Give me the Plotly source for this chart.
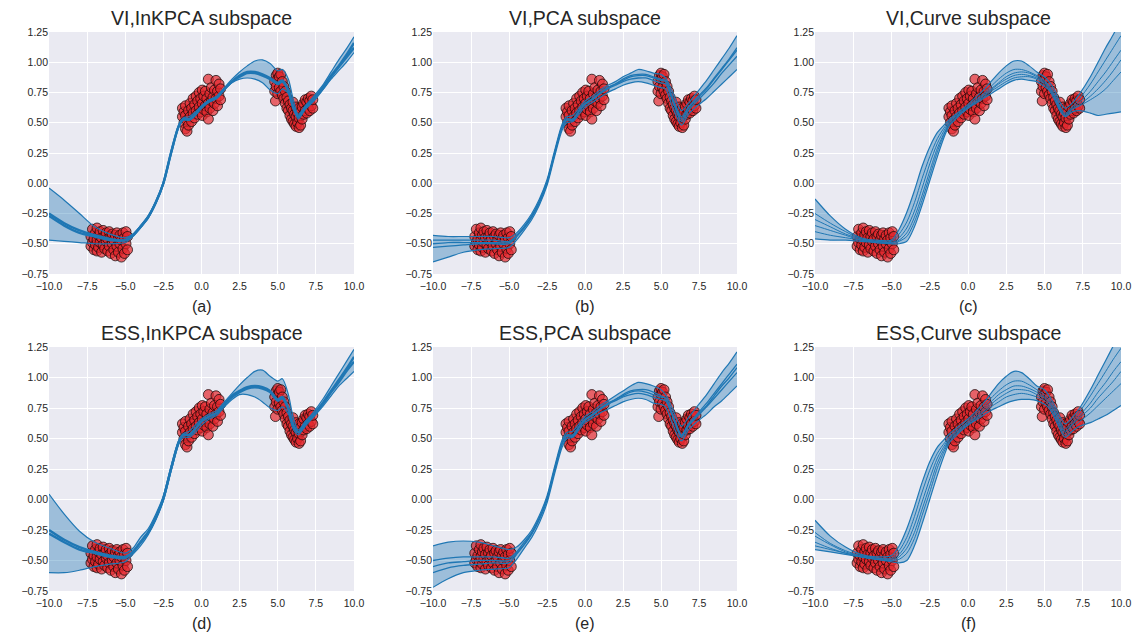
import plotly.graph_objects as go

# ---------------- data ----------------
titles = ["VI,InKPCA subspace", "VI,PCA subspace", "VI,Curve subspace",
          "ESS,InKPCA subspace", "ESS,PCA subspace", "ESS,Curve subspace"]
sublabels = ["(a)", "(b)", "(c)", "(d)", "(e)", "(f)"]

x_ticks = [-10.0, -7.5, -5.0, -2.5, 0.0, 2.5, 5.0, 7.5, 10.0]
y_ticks = [-0.75, -0.50, -0.25, 0.00, 0.25, 0.50, 0.75, 1.00, 1.25]

# observed points (three clusters)
pts_x1 = [-7.25,-7.25,-7.15,-7.15,-7.05,-7.05,-6.95,-6.95,-6.85,-6.85,-6.85,-6.75,-6.75,-6.65,-6.65,-6.55,-6.55,
          -6.45,-6.45,-6.35,-6.35,-6.25,-6.25,-6.15,-6.15,-6.05,-6.05,-5.95,-5.95,-5.85,-5.85,-5.75,-5.75,-5.65,-5.65,
          -5.55,-5.55,-5.45,-5.45,-5.35,-5.35,-5.25,-5.25,-5.15,-5.15,-5.05,-5.05,-4.95,-4.95,-4.85,-4.85]
pts_y1 = [-0.44,-0.52,-0.38,-0.49,-0.46,-0.55,-0.41,-0.51,-0.37,-0.47,-0.56,-0.43,-0.53,-0.40,-0.49,-0.45,-0.57,
          -0.39,-0.51,-0.44,-0.54,-0.41,-0.48,-0.46,-0.56,-0.40,-0.52,-0.44,-0.58,-0.42,-0.50,-0.47,-0.55,-0.43,-0.60,
          -0.41,-0.52,-0.46,-0.57,-0.43,-0.50,-0.47,-0.61,-0.41,-0.54,-0.45,-0.58,-0.40,-0.50,-0.44,-0.55]
pts_x2 = [-1.25,-1.25,-1.15,-1.15,-1.05,-1.05,-1.05,-0.95,-0.95,-0.85,-0.85,-0.75,-0.75,-0.65,-0.65,-0.55,-0.55,
          -0.45,-0.45,-0.35,-0.35,-0.25,-0.25,-0.15,-0.15,-0.05,-0.05,0.05,0.05,0.05,0.15,0.15,0.25,0.25,0.35,0.35,
          0.45,0.45,0.45,0.55,0.55,0.65,0.65,0.75,0.75,0.85,0.85,0.95,0.95,1.05,1.05,1.15,1.15,1.25,1.25]
pts_y2 = [0.55,0.62,0.50,0.59,0.45,0.56,0.64,0.43,0.52,0.48,0.60,0.55,0.66,0.51,0.62,0.58,0.70,
          0.54,0.65,0.60,0.72,0.57,0.68,0.63,0.75,0.59,0.70,0.56,0.66,0.77,0.61,0.72,0.64,0.76,0.59,0.70,
          0.86,0.66,0.53,0.62,0.74,0.68,0.79,0.60,0.71,0.66,0.77,0.70,0.85,0.64,0.76,0.72,0.82,0.69,0.78]
pts_x3 = [4.8,4.8,4.85,4.9,4.9,5.0,5.0,5.0,5.1,5.1,5.2,5.2,5.3,5.3,5.4,5.4,5.5,5.5,5.6,5.6,5.7,5.7,5.8,5.8,
          5.9,5.9,6.0,6.0,6.0,6.1,6.1,6.2,6.2,6.2,6.3,6.3,6.4,6.4,6.4,6.5,6.5,6.6,6.6,6.7,6.7,6.8,6.8,6.9,6.9,
          7.0,7.0,7.1,7.1,7.2,7.2,7.3,7.3]
pts_y3 = [0.76,0.84,0.68,0.80,0.89,0.74,0.86,0.91,0.79,0.88,0.76,0.90,0.73,0.84,0.70,0.80,0.66,0.76,0.62,0.71,
          0.60,0.68,0.56,0.65,0.53,0.62,0.51,0.60,0.67,0.49,0.57,0.47,0.55,0.63,0.50,0.58,0.46,0.54,0.62,0.48,0.59,
          0.53,0.63,0.57,0.66,0.60,0.69,0.58,0.67,0.62,0.70,0.60,0.68,0.64,0.72,0.62,0.69]

# common x grid for the predictive curves
curve_x = [-10,-9,-8,-7,-6,-5,-4.5,-4,-3.5,-3,-2.5,-2,-1.5,-1.2,-0.8,-0.4,0,0.5,1,1.5,2,2.5,3,3.5,4,4.5,
           5,5.3,5.7,6,6.35,6.8,7.3,8,8.5,9,9.5,10]

# (a) VI, InKPCA
a_lower = [-0.47,-0.48,-0.49,-0.50,-0.50,-0.49,-0.44,-0.37,-0.29,-0.17,-0.01,0.24,0.46,0.52,0.52,0.56,0.62,0.67,0.70,0.77,0.83,0.86,0.87,0.86,0.83,0.77,0.74,0.78,0.74,0.63,0.53,0.61,0.67,0.78,0.86,0.93,1.00,1.08]
a_upper = [-0.04,-0.14,-0.25,-0.36,-0.42,-0.45,-0.42,-0.35,-0.27,-0.15,0.01,0.26,0.48,0.54,0.55,0.59,0.64,0.69,0.72,0.79,0.86,0.92,0.97,1.01,1.02,0.99,0.93,0.94,0.86,0.70,0.57,0.64,0.71,0.82,0.92,1.02,1.11,1.21]
a_mid1 = [-0.25,-0.33,-0.39,-0.43,-0.46,-0.47,-0.43,-0.36,-0.28,-0.16,0.0,0.25,0.47,0.53,0.53,0.57,0.63,0.68,0.71,0.78,0.84,0.89,0.92,0.92,0.90,0.87,0.83,0.85,0.77,0.64,0.55,0.63,0.69,0.80,0.89,0.97,1.06,1.16]
a_mid2 = [-0.27,-0.35,-0.41,-0.44,-0.47,-0.47,-0.43,-0.36,-0.28,-0.16,0.0,0.25,0.47,0.53,0.53,0.57,0.63,0.68,0.71,0.78,0.84,0.88,0.91,0.91,0.89,0.86,0.82,0.84,0.76,0.63,0.55,0.62,0.68,0.79,0.88,0.96,1.04,1.12]

# (b) VI, PCA
b_lower = [-0.65,-0.61,-0.57,-0.55,-0.54,-0.53,-0.47,-0.39,-0.30,-0.18,-0.02,0.22,0.44,0.50,0.51,0.57,0.63,0.67,0.71,0.75,0.78,0.81,0.83,0.84,0.83,0.81,0.79,0.78,0.65,0.56,0.48,0.57,0.63,0.70,0.76,0.82,0.88,0.94]
b_upper = [-0.43,-0.44,-0.44,-0.44,-0.44,-0.45,-0.41,-0.34,-0.25,-0.13,0.03,0.27,0.49,0.55,0.56,0.62,0.68,0.72,0.77,0.81,0.84,0.88,0.91,0.94,0.93,0.91,0.90,0.87,0.77,0.68,0.60,0.66,0.74,0.85,0.94,1.03,1.12,1.22]
b_mid1 = [-0.47,-0.47,-0.47,-0.47,-0.47,-0.48,-0.43,-0.36,-0.27,-0.15,0.01,0.25,0.47,0.53,0.53,0.60,0.66,0.70,0.75,0.79,0.82,0.85,0.88,0.89,0.89,0.87,0.85,0.84,0.72,0.62,0.53,0.62,0.69,0.78,0.86,0.94,1.02,1.10]
b_mid2 = [-0.53,-0.52,-0.51,-0.50,-0.50,-0.50,-0.44,-0.37,-0.28,-0.16,0.0,0.24,0.46,0.52,0.52,0.59,0.65,0.69,0.74,0.78,0.81,0.84,0.86,0.87,0.87,0.85,0.83,0.82,0.70,0.60,0.51,0.60,0.67,0.76,0.83,0.91,0.98,1.05]
b_mid3 = [-0.50,-0.49,-0.49,-0.49,-0.49,-0.49,-0.44,-0.36,-0.27,-0.15,0.01,0.25,0.47,0.53,0.53,0.60,0.66,0.70,0.75,0.79,0.82,0.86,0.89,0.90,0.90,0.88,0.86,0.85,0.73,0.63,0.55,0.63,0.70,0.79,0.87,0.95,1.03,1.12]

# (c) VI, Curve
c_lower = [-0.46,-0.47,-0.47,-0.48,-0.49,-0.50,-0.50,-0.48,-0.36,-0.18,0.02,0.22,0.40,0.48,0.53,0.58,0.62,0.66,0.70,0.74,0.78,0.82,0.85,0.86,0.85,0.84,0.80,0.77,0.68,0.60,0.55,0.59,0.60,0.58,0.56,0.57,0.58,0.59]
c_upper = [-0.13,-0.27,-0.38,-0.45,-0.47,-0.47,-0.38,-0.24,-0.06,0.14,0.30,0.42,0.49,0.53,0.57,0.61,0.65,0.71,0.77,0.84,0.91,0.97,1.01,1.01,0.97,0.92,0.88,0.84,0.76,0.67,0.62,0.66,0.74,0.88,1.00,1.12,1.23,1.35]
c_mid1 = [-0.25,-0.33,-0.40,-0.46,-0.48,-0.48,-0.42,-0.32,-0.16,0.04,0.22,0.37,0.47,0.52,0.56,0.60,0.64,0.69,0.74,0.80,0.86,0.91,0.94,0.94,0.92,0.89,0.85,0.81,0.73,0.64,0.58,0.63,0.70,0.82,0.92,1.02,1.12,1.22]
c_mid2 = [-0.30,-0.36,-0.42,-0.46,-0.48,-0.49,-0.45,-0.37,-0.23,-0.04,0.16,0.33,0.45,0.51,0.55,0.59,0.63,0.68,0.73,0.78,0.83,0.88,0.91,0.92,0.91,0.88,0.84,0.80,0.71,0.63,0.57,0.62,0.67,0.76,0.84,0.92,1.01,1.10]
c_mid3 = [-0.35,-0.39,-0.43,-0.47,-0.48,-0.49,-0.47,-0.41,-0.28,-0.10,0.10,0.29,0.43,0.50,0.55,0.59,0.63,0.67,0.72,0.77,0.82,0.86,0.89,0.90,0.89,0.87,0.83,0.79,0.71,0.62,0.56,0.61,0.65,0.72,0.78,0.85,0.93,1.02]
c_mid4 = [-0.40,-0.43,-0.45,-0.47,-0.49,-0.50,-0.48,-0.44,-0.32,-0.14,0.06,0.26,0.42,0.49,0.54,0.58,0.62,0.67,0.71,0.76,0.80,0.84,0.87,0.88,0.88,0.86,0.82,0.78,0.70,0.61,0.56,0.61,0.64,0.69,0.73,0.78,0.85,0.92]

# (d) ESS, InKPCA
d_lower = [-0.60,-0.60,-0.58,-0.55,-0.53,-0.51,-0.45,-0.38,-0.29,-0.17,-0.01,0.23,0.45,0.51,0.51,0.55,0.61,0.66,0.69,0.76,0.82,0.86,0.86,0.84,0.80,0.75,0.73,0.76,0.70,0.58,0.53,0.60,0.67,0.77,0.85,0.93,0.99,1.05]
d_upper = [0.045,-0.12,-0.26,-0.35,-0.40,-0.44,-0.40,-0.31,-0.24,-0.12,0.03,0.27,0.48,0.54,0.56,0.61,0.66,0.70,0.73,0.80,0.87,0.94,1.00,1.05,1.06,1.01,0.97,0.99,0.86,0.68,0.57,0.64,0.71,0.83,0.93,1.03,1.13,1.23]
d_mid1 = [-0.25,-0.33,-0.39,-0.43,-0.46,-0.47,-0.43,-0.35,-0.27,-0.15,0.01,0.25,0.47,0.53,0.53,0.58,0.64,0.68,0.71,0.78,0.85,0.89,0.92,0.93,0.92,0.89,0.82,0.84,0.75,0.62,0.55,0.63,0.69,0.80,0.89,0.98,1.07,1.17]
d_mid2 = [-0.28,-0.35,-0.41,-0.44,-0.47,-0.48,-0.43,-0.35,-0.27,-0.15,0.01,0.25,0.47,0.53,0.53,0.58,0.64,0.68,0.71,0.78,0.84,0.88,0.91,0.92,0.91,0.88,0.81,0.83,0.74,0.61,0.55,0.62,0.68,0.79,0.88,0.96,1.05,1.13]

# (e) ESS, PCA
e_lower = [-0.72,-0.65,-0.60,-0.58,-0.57,-0.56,-0.49,-0.40,-0.31,-0.19,-0.03,0.21,0.43,0.50,0.51,0.57,0.63,0.67,0.71,0.74,0.77,0.80,0.82,0.83,0.82,0.79,0.78,0.76,0.64,0.55,0.48,0.57,0.63,0.70,0.76,0.81,0.87,0.93]
e_upper = [-0.38,-0.35,-0.34,-0.35,-0.38,-0.41,-0.39,-0.33,-0.25,-0.13,0.03,0.27,0.49,0.55,0.56,0.62,0.68,0.72,0.77,0.81,0.85,0.89,0.93,0.96,0.95,0.93,0.90,0.86,0.76,0.67,0.60,0.67,0.75,0.86,0.95,1.04,1.12,1.21]
e_mid1 = [-0.50,-0.48,-0.47,-0.47,-0.47,-0.48,-0.43,-0.35,-0.27,-0.15,0.01,0.25,0.47,0.53,0.53,0.60,0.66,0.70,0.75,0.79,0.82,0.86,0.89,0.90,0.90,0.88,0.85,0.83,0.72,0.62,0.53,0.62,0.69,0.79,0.87,0.95,1.03,1.11]
e_mid2 = [-0.55,-0.52,-0.51,-0.50,-0.50,-0.50,-0.44,-0.37,-0.28,-0.16,0.0,0.24,0.46,0.52,0.52,0.59,0.65,0.69,0.74,0.78,0.81,0.84,0.86,0.87,0.86,0.84,0.82,0.81,0.70,0.60,0.51,0.60,0.67,0.76,0.83,0.90,0.97,1.04]
e_mid3 = [-0.60,-0.56,-0.54,-0.53,-0.52,-0.52,-0.45,-0.37,-0.28,-0.16,0.0,0.24,0.46,0.52,0.52,0.59,0.65,0.69,0.74,0.78,0.82,0.85,0.88,0.89,0.88,0.86,0.84,0.83,0.71,0.61,0.52,0.61,0.68,0.77,0.85,0.93,1.00,1.08]

# (f) ESS, Curve
f_lower = [-0.41,-0.43,-0.45,-0.47,-0.49,-0.51,-0.52,-0.50,-0.38,-0.20,0.0,0.20,0.38,0.47,0.52,0.57,0.61,0.65,0.69,0.73,0.76,0.79,0.81,0.82,0.82,0.81,0.78,0.75,0.66,0.58,0.51,0.56,0.60,0.63,0.66,0.69,0.73,0.77]
f_upper = [-0.17,-0.30,-0.39,-0.45,-0.47,-0.46,-0.38,-0.24,-0.06,0.14,0.31,0.43,0.50,0.54,0.58,0.62,0.66,0.72,0.79,0.87,0.95,1.01,1.05,1.04,0.99,0.93,0.90,0.85,0.76,0.68,0.62,0.67,0.75,0.90,1.02,1.14,1.26,1.38]
f_mid1 = [-0.27,-0.36,-0.42,-0.46,-0.48,-0.48,-0.42,-0.31,-0.14,0.06,0.24,0.38,0.47,0.52,0.56,0.60,0.64,0.70,0.76,0.83,0.89,0.94,0.97,0.97,0.94,0.90,0.86,0.82,0.73,0.65,0.58,0.64,0.72,0.85,0.95,1.05,1.15,1.24]
f_mid2 = [-0.30,-0.37,-0.43,-0.46,-0.48,-0.49,-0.45,-0.36,-0.21,-0.02,0.17,0.34,0.45,0.51,0.55,0.59,0.63,0.68,0.74,0.80,0.86,0.90,0.93,0.93,0.91,0.88,0.84,0.80,0.71,0.63,0.56,0.62,0.69,0.79,0.88,0.96,1.05,1.13]
f_mid3 = [-0.35,-0.40,-0.44,-0.47,-0.49,-0.50,-0.47,-0.40,-0.27,-0.08,0.11,0.30,0.43,0.50,0.54,0.58,0.62,0.67,0.72,0.78,0.83,0.87,0.90,0.90,0.89,0.86,0.83,0.79,0.70,0.62,0.55,0.61,0.67,0.75,0.83,0.90,0.97,1.05]
f_mid4 = [-0.38,-0.41,-0.44,-0.47,-0.49,-0.50,-0.49,-0.44,-0.32,-0.13,0.06,0.26,0.41,0.49,0.53,0.57,0.61,0.66,0.71,0.76,0.80,0.84,0.86,0.87,0.86,0.84,0.81,0.77,0.68,0.60,0.53,0.59,0.64,0.71,0.77,0.83,0.89,0.95]

panels = [
    (a_lower, a_upper, [a_mid1, a_mid2], 2.4),
    (b_lower, b_upper, [b_mid1, b_mid2, b_mid3], 1.3),
    (c_lower, c_upper, [c_mid1, c_mid2, c_mid3, c_mid4], 1.0),
    (d_lower, d_upper, [d_mid1, d_mid2], 2.4),
    (e_lower, e_upper, [e_mid1, e_mid2, e_mid3], 1.3),
    (f_lower, f_upper, [f_mid1, f_mid2, f_mid3, f_mid4], 1.0),
]

# ---------------- layout geometry (pixels of a 1138x637 canvas) ----------------
W, H = 1138, 637
col_px = [(49, 354), (433, 737), (815, 1121)]
row_px = [(32, 274), (347, 591)]

BLUE = "#1f77b4"
BAND = "rgba(31,119,180,0.38)"
FONT = "Arial, 'Liberation Sans', sans-serif"

pts_x = pts_x1 + pts_x2 + pts_x3
pts_y = pts_y1 + pts_y2 + pts_y3

fig = go.Figure()
layout = dict(
    width=W, height=H, margin=dict(l=0, r=0, t=0, b=0, pad=0, autoexpand=False),
    paper_bgcolor="white", plot_bgcolor="#EAEAF2", showlegend=False,
    font=dict(family=FONT, color="#262626"),
)
annotations = []

for i, (lower, upper, mids, midw) in enumerate(panels):
    r, c = divmod(i, 3)
    xa = "x" if i == 0 else f"x{i+1}"
    ya = "y" if i == 0 else f"y{i+1}"
    xkey = "xaxis" if i == 0 else f"xaxis{i+1}"
    ykey = "yaxis" if i == 0 else f"yaxis{i+1}"
    x0, x1 = col_px[c]
    y0, y1 = row_px[r]
    layout[xkey] = dict(
        domain=[x0 / W, x1 / W], anchor=ya, range=[-10, 10], automargin=False,
        tickvals=x_ticks, tickformat=".1f", showgrid=True, gridcolor="white",
        gridwidth=1.3, zeroline=False, showline=False, ticks="",
        ticklabelstandoff=4,
        tickfont=dict(size=10.5, color="#262626"),
    )
    layout[ykey] = dict(
        domain=[1 - y1 / H, 1 - y0 / H], anchor=xa, range=[-0.75, 1.25], automargin=False,
        tickvals=y_ticks, tickformat=".2f", showgrid=True, gridcolor="white",
        gridwidth=1.3, zeroline=False, showline=False, ticks="",
        tickfont=dict(size=10.5, color="#262626"),
    )
    # band
    fig.add_trace(go.Scatter(x=curve_x, y=lower, mode="lines", xaxis=xa, yaxis=ya,
                             line=dict(width=0, shape="spline", smoothing=0.8, color=BLUE),
                             hoverinfo="skip"))
    fig.add_trace(go.Scatter(x=curve_x, y=upper, mode="lines", xaxis=xa, yaxis=ya,
                             fill="tonexty", fillcolor=BAND,
                             line=dict(width=0, shape="spline", smoothing=0.8, color=BLUE),
                             hoverinfo="skip"))
    # observations
    fig.add_trace(go.Scatter(x=pts_x, y=pts_y, mode="markers", xaxis=xa, yaxis=ya,
                             marker=dict(size=10, color="rgba(228,40,45,0.7)",
                                         line=dict(color="rgba(20,10,10,0.75)", width=1))))
    # curves
    for yy in [lower, upper]:
        fig.add_trace(go.Scatter(x=curve_x, y=yy, mode="lines", xaxis=xa, yaxis=ya,
                                 line=dict(width=1.2, shape="spline", smoothing=0.8, color=BLUE)))
    for yy in mids:
        fig.add_trace(go.Scatter(x=curve_x, y=yy, mode="lines", xaxis=xa, yaxis=ya,
                                 line=dict(width=midw, shape="spline", smoothing=0.8, color=BLUE)))
    cx = (x0 + x1) / 2 / W
    annotations.append(dict(text=titles[i], x=cx, y=1 - (y0 - 14) / H, xref="paper", yref="paper",
                            showarrow=False, xanchor="center", yanchor="middle",
                            font=dict(size=19.5, family=FONT, color="#262626")))
    annotations.append(dict(text=sublabels[i], x=cx, y=1 - (y1 + 32) / H, xref="paper", yref="paper",
                            showarrow=False, xanchor="center", yanchor="middle",
                            font=dict(size=16, family=FONT, color="#262626")))

layout["annotations"] = annotations
fig.update_layout(**layout)
fig.write_html(
    "out.html",
    config={"displayModeBar": False},
    post_script="document.body.style.margin='0';document.body.style.padding='0';"
                "document.documentElement.style.overflow='hidden';",
)
